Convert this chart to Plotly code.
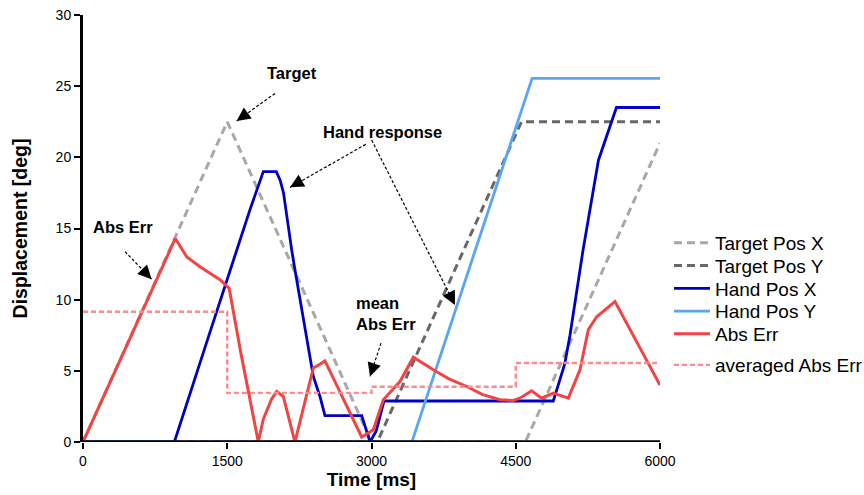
import plotly.graph_objects as go

# ---- data (time in ms, displacement in deg) ----
target_x_t = [0, 1500, 3000, 4600, 6000]
target_x_v = [0, 22.5, 0, 0, 21.0]

target_y_t = [0, 3060, 4560, 6000]
target_y_v = [0, 0, 22.5, 22.5]

hand_x_t = [0, 950, 1300, 1600, 1740, 1875, 2010, 2050, 2085, 2170, 2204, 2395, 2464, 2516,
            2898, 2985, 3050, 3130, 4890, 4960, 5010, 5064, 5200, 5360, 5547, 6000]
hand_x_v = [0, 0, 7.3, 13.5, 16.4, 19.0, 19.0, 18.4, 17.5, 13.5, 12.1, 4.6, 3.2, 1.85,
            1.85, 0, 0.8, 2.88, 2.88, 4.4, 5.5, 7.5, 13.5, 19.8, 23.5, 23.5]

hand_y_t = [0, 3420, 4670, 6000]
hand_y_v = [0, 0, 25.55, 25.55]

abs_err_t = [0, 960, 1080, 1220, 1425, 1520, 1640, 1823, 1875, 1960, 2014, 2083, 2204,
             2395, 2447, 2516, 2898, 3019, 3123, 3296, 3435, 3540, 3643, 3800, 3990,
             4150, 4336, 4474, 4544, 4665, 4769, 4890, 5047, 5168, 5255, 5342, 5411,
             5532, 6000]
abs_err_v = [0, 14.3, 13.0, 12.3, 11.4, 10.8, 6.3, 0, 1.6, 3.0, 3.55, 3.2, 0,
             5.2, 5.4, 5.7, 0.35, 0.86, 2.97, 4.25, 5.96, 5.5, 5.07, 4.45, 3.9,
             3.35, 2.97, 2.92, 3.08, 3.6, 3.08, 3.44, 3.08, 5.07, 7.9, 8.8, 9.17,
             9.87, 4.0]

avg_err_t = [0, 1500, 3000, 4500, 6000]
avg_err_v = [9.15, 3.45, 3.88, 5.55, 5.55]

x_ticks = [0, 1500, 3000, 4500, 6000]
y_ticks = [0, 5, 10, 15, 20, 25, 30]

FONT = "Liberation Sans, Arial, sans-serif"
W, H = 864, 495

# each series gets its own legend box so the rows can be spaced freely
series = [
    (target_x_t, target_x_v, "Target Pos X", dict(color="#a8a8a8", width=3, dash="8px,5px"), None, 243),
    (target_y_t, target_y_v, "Target Pos Y", dict(color="#686868", width=3, dash="8px,5px"), None, 265.7),
    (hand_x_t, hand_x_v, "Hand Pos X", dict(color="#0000c4", width=2.8), None, 288.5),
    (hand_y_t, hand_y_v, "Hand Pos Y", dict(color="#58a6f4", width=2.8), None, 311.2),
    (abs_err_t, abs_err_v, "Abs Err", dict(color="#f34444", width=3), None, 334),
    (avg_err_t, avg_err_v, "averaged Abs Err", dict(color="#ff8a8a", width=2.4, dash="5px,3px"), "hv", 365),
]

fig = go.Figure()
legend_layout = {}
for i, (t, v, name, line, shape, row_y) in enumerate(series):
    key = "legend" if i == 0 else f"legend{i + 1}"
    fig.add_trace(go.Scatter(x=t, y=v, mode="lines", name=name, line=line,
                             line_shape=shape or "linear", legend=key, showlegend=True))
    legend_layout[key] = dict(
        xref="container", yref="container", x=669 / W, y=1 - row_y / H,
        xanchor="left", yanchor="middle",
        font=dict(family=FONT, size=19, color="black"),
        itemwidth=36, bgcolor="rgba(0,0,0,0)", borderwidth=0,
    )

# ---- annotation texts ----
label_font = dict(family=FONT, size=16.5, color="black", weight="bold")
fig.add_annotation(x=2173, y=25.93, text="Target", showarrow=False, font=label_font)
fig.add_annotation(x=3116, y=21.79, text="Hand response", showarrow=False, font=label_font)
fig.add_annotation(x=411, y=15.13, text="Abs Err", showarrow=False, font=label_font)
fig.add_annotation(x=2823, y=9.0, text="mean<br>Abs Err", showarrow=False, align="left",
                   xanchor="left", font=label_font)

# ---- dashed pointer lines with arrowheads (tail -> tip, data units) ----
pointers = [
    ((1997, 24.49), (1598, 22.56)),
    ((2940, 20.91), (2153, 17.89)),
    ((3002, 21.21), (3868, 9.63)),
    ((437, 13.37), (714, 11.44)),
    ((3099, 6.95), (2984, 4.60)),
]
px_per_t = 577 / 6000
px_per_v = 427 / 30
for (tx, ty), (hx, hy) in pointers:
    fig.add_shape(type="line", x0=tx, y0=ty, x1=hx, y1=hy, xref="x", yref="y",
                  line=dict(color="black", width=1.2, dash="3px,2px"))
    dx = (tx - hx) * px_per_t
    dy = -(ty - hy) * px_per_v
    n = (dx * dx + dy * dy) ** 0.5
    fig.add_annotation(x=hx, y=hy, ax=dx / n * 11, ay=dy / n * 11, text="", showarrow=True,
                       arrowhead=2, arrowsize=2.1, arrowwidth=1.3, arrowcolor="black")

# baseline drawn over the traces so segments resting at zero sit under it
fig.add_shape(type="line", xref="paper", yref="y", x0=0, x1=1, y0=0, y1=0,
              layer="above", line=dict(color="black", width=3.5))

axis_common = dict(
    ticks="outside", ticklen=6, tickwidth=2, tickcolor="black",
    showgrid=False, zeroline=False,
    tickfont=dict(family=FONT, size=14, color="black"),
)

fig.update_xaxes(range=[0, 6000], tickvals=x_ticks, ticktext=[str(v) for v in x_ticks],
                 showline=False,
                 title=dict(text="Time [ms]", standoff=3,
                            font=dict(family=FONT, size=19, color="black", weight="bold")),
                 **axis_common)
fig.update_yaxes(range=[0, 30], tickvals=y_ticks, ticktext=[str(v) for v in y_ticks],
                 showline=True, linecolor="black", linewidth=3, layer="above traces",
                 title=dict(text="Displacement [deg]", standoff=23,
                            font=dict(family=FONT, size=19.5, color="black", weight="bold")),
                 **axis_common)

fig.update_layout(
    width=W, height=H,
    margin=dict(l=83, r=204, t=15, b=53, autoexpand=False),
    showlegend=True,
    paper_bgcolor="white", plot_bgcolor="white",
    font=dict(family=FONT, color="black"),
    **legend_layout,
)

fig.write_html("out.html")
